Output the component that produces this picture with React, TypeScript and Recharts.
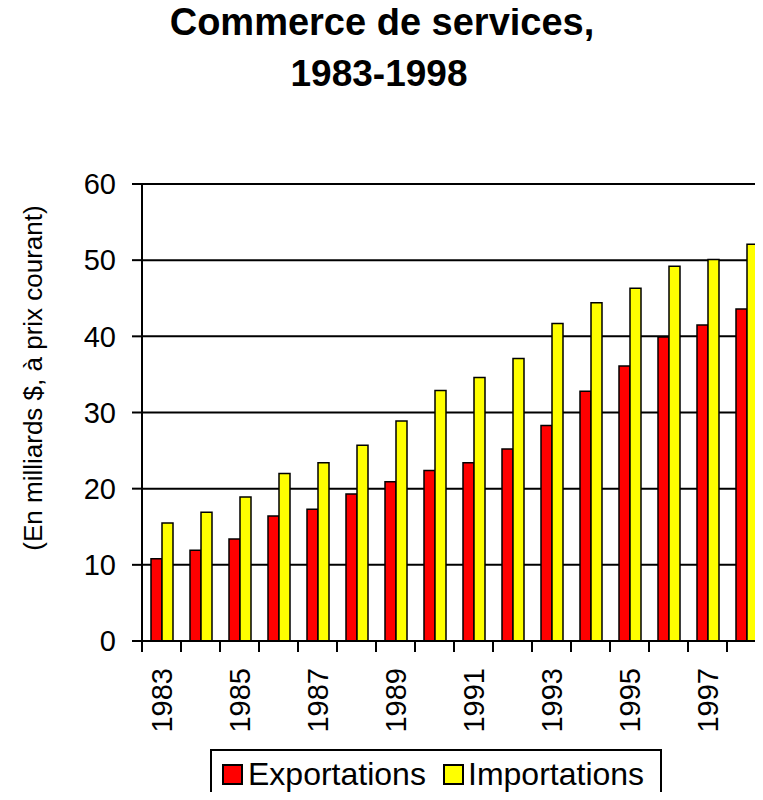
import { Bar, BarChart, CartesianGrid, Customized, Legend, XAxis, YAxis } from 'recharts'

const years = ['1983', '1984', '1985', '1986', '1987', '1988', '1989', '1990', '1991', '1992', '1993', '1994', '1995', '1996', '1997', '1998']
const exportations = [10.8, 11.9, 13.4, 16.4, 17.3, 19.3, 20.9, 22.4, 23.4, 25.2, 28.3, 32.8, 36.1, 39.9, 41.5, 43.6]
const importations = [15.5, 16.9, 18.9, 22.0, 23.4, 25.7, 28.9, 32.9, 34.6, 37.1, 41.7, 44.4, 46.3, 49.2, 50.1, 52.1]
const yTicks = [0, 10, 20, 30, 40, 50, 60]

const data = years.map((year, i) => ({ year, exp: exportations[i], imp: importations[i] }))

const FONT = '"Liberation Sans", Arial, sans-serif'
const W = 800
const H = 800
const LEFT = 142
const RIGHT = 34
const band = (W - LEFT - RIGHT) / years.length

function YearTick(props: any) {
  const { x, y, index, payload } = props
  const bx = x - band / 2
  return (
    <g>
      <line x1={bx} y1={y} x2={bx} y2={y + 11} stroke="#000" strokeWidth={2} />
      {index % 2 === 0 ? (
        <text
          x={x}
          y={y + 27}
          dy="0.35em"
          textAnchor="end"
          transform={`rotate(-90 ${x} ${y + 27})`}
          fontSize={29}
          fontFamily={FONT}
          fill="#000"
        >
          {payload.value}
        </text>
      ) : null}
    </g>
  )
}

function Titles() {
  return (
    <g fontFamily={FONT} fill="#000">
      <text x={382} y={35} textAnchor="middle" fontSize={38} fontWeight="bold">
        Commerce de services,
      </text>
      <text x={379} y={86} textAnchor="middle" fontSize={37} fontWeight="bold">
        1983-1998
      </text>
      <text
        x={33}
        y={378}
        dy="0.35em"
        textAnchor="middle"
        transform="rotate(-90 33 378)"
        fontSize={26}
      >
        (En milliards $, à prix courant)
      </text>
    </g>
  )
}

function LegendBox() {
  return (
    <svg width={452} height={51} style={{ display: 'block' }}>
      <polyline points="1,51 1,1 451,1 451,51" fill="none" stroke="#000" strokeWidth={2} />
      <rect x={13} y={16} width={19} height={19} fill="#ff0000" stroke="#000" strokeWidth={2} />
      <text x={38} y={36} fontSize={32} fontFamily={FONT} fill="#000">
        Exportations
      </text>
      <rect x={234} y={16} width={19} height={19} fill="#ffff00" stroke="#000" strokeWidth={2} />
      <text x={258} y={36} fontSize={32} fontFamily={FONT} fill="#000">
        Importations
      </text>
    </svg>
  )
}

export default function App() {
  return (
    <div style={{ width: 763, height: H, overflow: 'hidden', position: 'relative', margin: -8 }}>
      <BarChart
        width={W}
        height={H}
        data={data}
        margin={{ top: 184, right: RIGHT, left: 0, bottom: 0 }}
        barGap={0}
        barSize={11}
      >
        <CartesianGrid vertical={false} stroke="#000" strokeWidth={2} />
        <XAxis
          dataKey="year"
          interval={0}
          tickSize={0}
          tickMargin={0}
          tickLine={false}
          axisLine={{ stroke: '#000', strokeWidth: 2 }}
          height={108}
          tick={<YearTick />}
        />
        <YAxis
          width={LEFT}
          domain={[0, 60]}
          ticks={yTicks}
          interval={0}
          tickSize={10}
          tickMargin={16}
          axisLine={{ stroke: '#000', strokeWidth: 2 }}
          tickLine={{ stroke: '#000', strokeWidth: 2 }}
          tick={{ fill: '#000', fontSize: 29, fontFamily: FONT }}
        />
        <Legend
          verticalAlign="bottom"
          content={<LegendBox />}
          wrapperStyle={{ left: 210, width: 452, bottom: 0 }}
        />
        <Bar dataKey="exp" name="Exportations" fill="#ff0000" stroke="#000" strokeWidth={1.5} isAnimationActive={false} />
        <Bar dataKey="imp" name="Importations" fill="#ffff00" stroke="#000" strokeWidth={1.5} isAnimationActive={false} />
        <Customized component={Titles} />
      </BarChart>
    </div>
  )
}
